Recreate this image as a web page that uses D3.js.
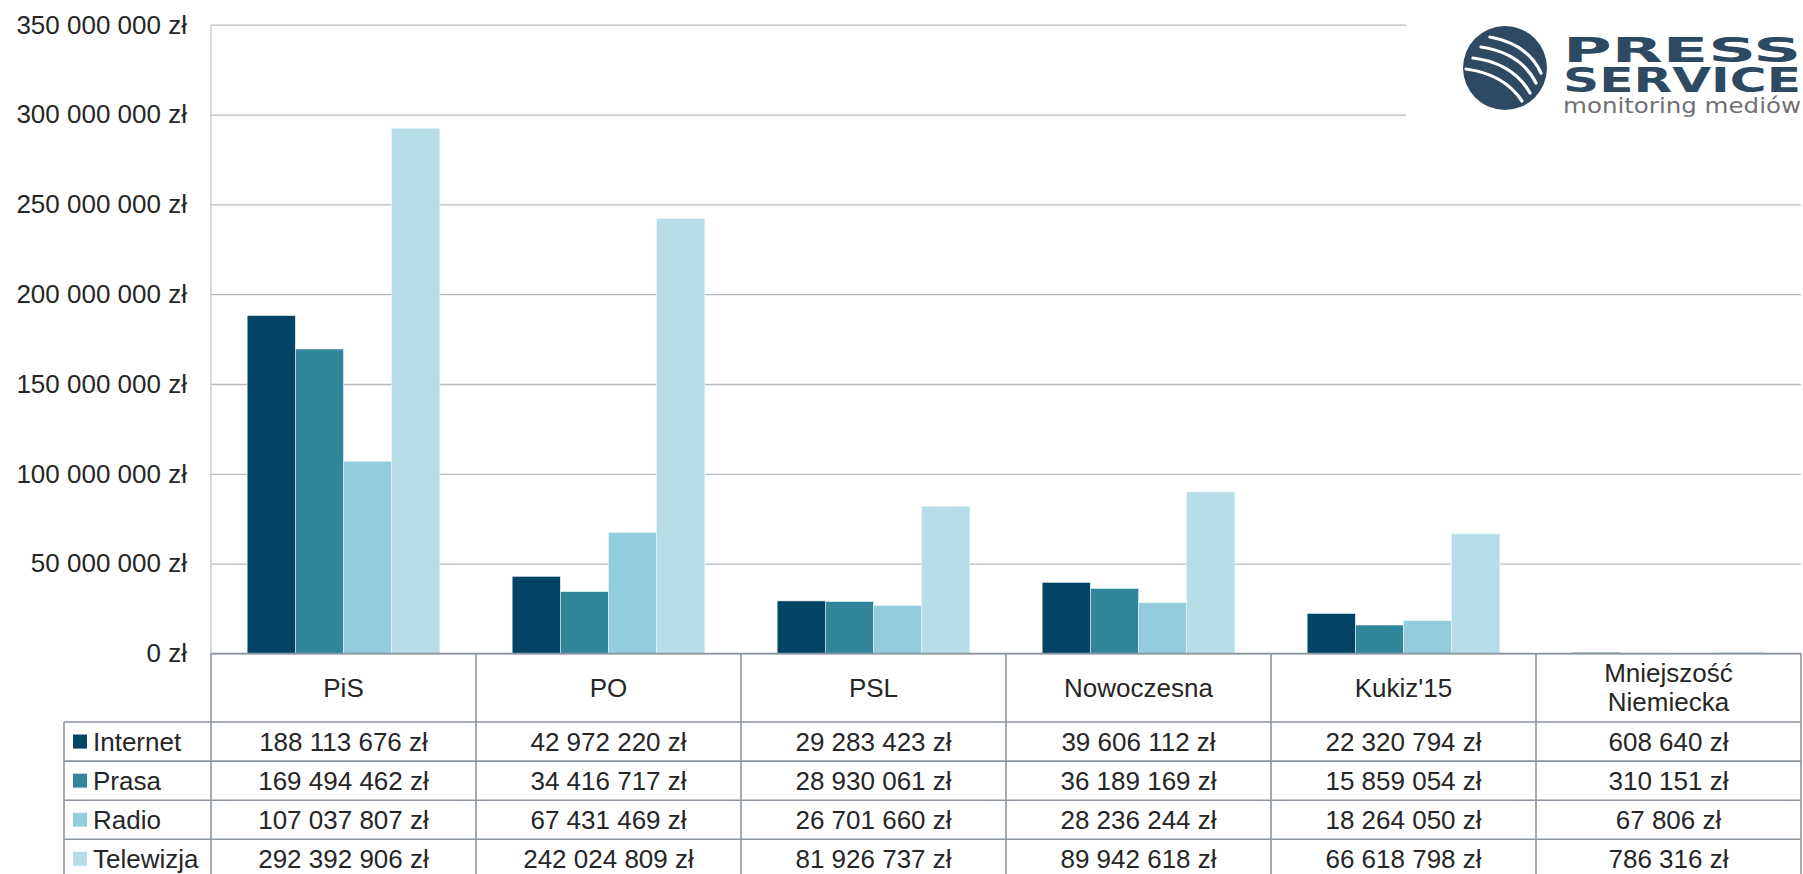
<!DOCTYPE html>
<html>
<head>
<meta charset="utf-8">
<script src="https://cdn.jsdelivr.net/npm/d3@7"></script>
<style>
  body { margin: 0; background: #fff; }
  text { font-family: "Liberation Sans", Arial, sans-serif; fill: #262626; }
</style>
</head>
<body>
<div class="chart"></div>
<script>
// values (zł)
var categories = ["PiS", "PO", "PSL", "Nowoczesna", "Kukiz'15", "Mniejszość Niemiecka"];
var series = ["Internet", "Prasa", "Radio", "Telewizja"];
var internet  = [188113676, 42972220, 29283423, 39606112, 22320794, 608640];
var prasa     = [169494462, 34416717, 28930061, 36189169, 15859054, 310151];
var radio     = [107037807, 67431469, 26701660, 28236244, 18264050, 67806];
var telewizja = [292392906, 242024809, 81926737, 89942618, 66618798, 786316];
var yTicks = [0, 50000000, 100000000, 150000000, 200000000, 250000000, 300000000, 350000000];
var colors = ["#024466", "#31869b", "#93cddd", "#b7dee8"];

var values = [internet, prasa, radio, telewizja];

var w = 1803;
var h = 874;
var plotLeft = 211, plotRight = 1801;
var plotTop = 24.7, zeroY = 653.5;
var headerH = 68.5;
var rowH = 39.1;
var fs = "26px";

var fmt = function(v) { return d3.format(",")(v).replace(/,/g, " ") + " zł"; };

var svg = d3.select(".chart")
            .append("svg")
            .attr("width", w)
            .attr("height", h);

var y = d3.scaleLinear().domain([0, 350000000]).range([zeroY, plotTop]);
var x = d3.scaleBand().domain(categories).range([plotLeft, plotRight]);
var bw = x.bandwidth();
var gap = bw * 0.75 / 5.5;
var xs = d3.scaleBand().domain(series).range([gap, bw - gap]);
var color = d3.scaleOrdinal().domain(series).range(colors);

// gridlines + labels
var yAxis = svg.append("g")
   .attr("transform", "translate(" + plotLeft + ",0)")
   .call(d3.axisLeft(y).tickValues(yTicks).tickSize(-(plotRight - plotLeft)).tickFormat(fmt).tickPadding(24));
yAxis.select(".domain").remove();
yAxis.selectAll(".tick line").attr("stroke", "#b3bac1").attr("stroke-width", 1.3);
yAxis.selectAll(".tick text").attr("font-size", fs).attr("fill", "#262626")
     .style("font-family", "'Liberation Sans', Arial, sans-serif");

svg.append("line")
   .attr("x1", plotLeft).attr("x2", plotLeft).attr("y1", plotTop).attr("y2", zeroY)
   .attr("stroke", "#c6ccd2").attr("stroke-width", 1.5);

// bars
var rows = [];
categories.forEach(function(c, i) {
  series.forEach(function(s, j) {
    rows.push({ cat: c, ser: s, val: values[j][i] });
  });
});

svg.selectAll(".bar")
   .data(rows)
   .enter()
   .append("rect")
   .attr("class", "bar")
   .attr("x", function(d) { return x(d.cat) + xs(d.ser); })
   .attr("y", function(d) { return y(d.val); })
   .attr("width", xs.bandwidth())
   .attr("height", function(d) { return zeroY - y(d.val); })
   .attr("fill", function(d) { return color(d.ser); })
   .attr("stroke", "#e8f3f6")
   .attr("stroke-width", 0.6);

// data table
var lineCol = "#8c959f";
var tbl = svg.append("g");
var bottom = zeroY + headerH + rowH * series.length;

tbl.append("line").attr("x1", plotLeft).attr("x2", plotRight).attr("y1", zeroY).attr("y2", zeroY);
d3.range(series.length + 1).forEach(function(r) {
  var yy = zeroY + headerH + r * rowH;
  tbl.append("line").attr("x1", 64).attr("x2", plotRight).attr("y1", yy).attr("y2", yy);
});
tbl.append("line").attr("x1", 64).attr("x2", 64).attr("y1", zeroY + headerH).attr("y2", bottom);
categories.forEach(function(c) {
  tbl.append("line").attr("x1", x(c)).attr("x2", x(c)).attr("y1", zeroY).attr("y2", bottom);
});
tbl.append("line").attr("x1", plotRight).attr("x2", plotRight).attr("y1", zeroY).attr("y2", bottom);
tbl.selectAll("line").attr("stroke", lineCol).attr("stroke-width", 1.6);

// category headers
categories.forEach(function(c) {
  var parts = c.length > 15 ? c.split(" ") : [c];
  var t = svg.append("text")
     .attr("x", x(c) + bw / 2)
     .attr("text-anchor", "middle")
     .attr("font-size", fs);
  var cy = zeroY + headerH / 2;
  parts.forEach(function(p, k) {
    t.append("tspan")
     .attr("x", x(c) + bw / 2)
     .attr("y", cy + (k - (parts.length - 1) / 2) * 29)
     .attr("dy", "0.35em")
     .text(p);
  });
});

// legend keys + values
series.forEach(function(s, j) {
  var cy = zeroY + headerH + j * rowH + rowH / 2;
  svg.append("rect")
     .attr("x", 73).attr("y", cy - 7).attr("width", 14).attr("height", 14)
     .attr("fill", color(s));
  svg.append("text")
     .attr("x", 93).attr("y", cy).attr("dy", "0.35em")
     .attr("font-size", fs)
     .text(s);
  categories.forEach(function(c, i) {
    svg.append("text")
       .attr("x", x(c) + bw / 2).attr("y", cy).attr("dy", "0.35em")
       .attr("text-anchor", "middle")
       .attr("font-size", fs)
       .text(fmt(values[j][i]));
  });
});

// logo
var logo = svg.append("g");
logo.append("rect").attr("x", 1406).attr("y", 0).attr("width", 400).attr("height", 132).attr("fill", "#fff");
logo.append("circle").attr("cx", 1505).attr("cy", 68).attr("r", 42).attr("fill", "#2d4a62");
var stripes = [
  [1490, 37, 1528, 44, 1541, 73],
  [1481, 47, 1521, 53, 1536, 83],
  [1473, 58, 1513, 63, 1530, 93],
  [1466, 69, 1504, 74, 1522, 101]
];
stripes.forEach(function(p) {
  logo.append("path")
      .attr("d", "M" + p[0] + "," + p[1] + " Q" + p[2] + "," + p[3] + " " + p[4] + "," + p[5])
      .attr("fill", "none").attr("stroke", "#fff").attr("stroke-width", 3.2)
      .attr("stroke-linecap", "round");
});
logo.append("text").attr("x", 1563).attr("y", 62)
    .attr("textLength", 238).attr("lengthAdjust", "spacingAndGlyphs")
    .attr("font-size", "34px").style("font-weight", "bold")
    .style("font-family", "'DejaVu Sans', sans-serif").style("fill", "#2d4a62")
    .text("PRESS");
logo.append("text").attr("x", 1563).attr("y", 92)
    .attr("textLength", 238).attr("lengthAdjust", "spacingAndGlyphs")
    .attr("font-size", "34px").style("font-weight", "bold")
    .style("font-family", "'DejaVu Sans', sans-serif").style("fill", "#2d4a62")
    .text("SERVICE");
logo.append("text").attr("x", 1563).attr("y", 113)
    .attr("textLength", 238).attr("lengthAdjust", "spacingAndGlyphs")
    .attr("font-size", "21px")
    .style("font-family", "'DejaVu Sans', sans-serif").style("fill", "#6e7175")
    .text("monitoring mediów");
</script>
</body>
</html>
